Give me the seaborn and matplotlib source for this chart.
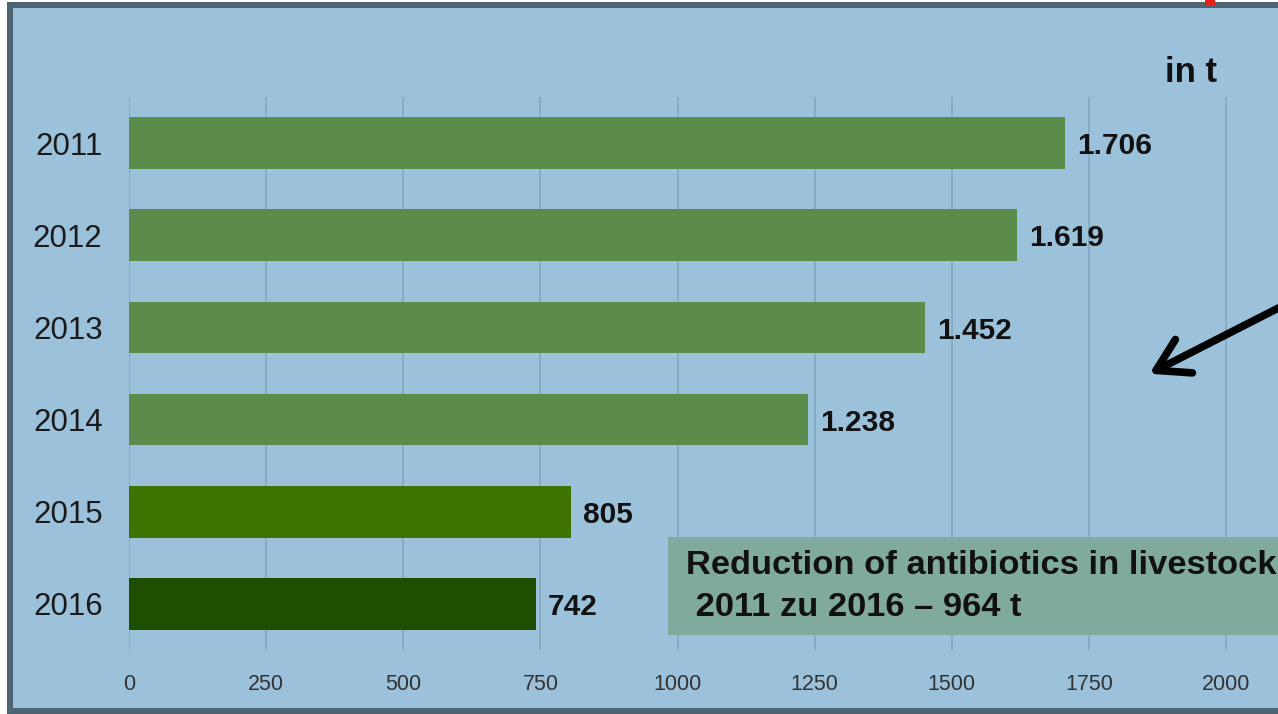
import matplotlib
matplotlib.use('Agg')
import matplotlib.pyplot as plt
from matplotlib.patches import Rectangle, FancyArrowPatch
import seaborn as sns
import pandas as pd

# Daten: Antibiotika-Abgabe in der Tierhaltung (in t)
years = ['2011', '2012', '2013', '2014', '2015', '2016']
amounts = [1706, 1619, 1452, 1238, 805, 742]
bar_colors = ['#5c8c4b', '#5c8c4b', '#5c8c4b', '#5c8c4b', '#3e7300', '#1f4e00']
x_ticks = [0, 250, 500, 750, 1000, 1250, 1500, 1750, 2000]
box_line1 = 'Reduction of antibiotics in livestock'
box_line2 = ' 2011 zu 2016 \u2013 964 t'
unit_label = 'in t'

df = pd.DataFrame({'Jahr': years, 'Menge': amounts})

sns.set_theme(style='white')
plt.rcParams['font.family'] = ['Liberation Sans', 'DejaVu Sans']

W, H = 1278, 714
fig = plt.figure(figsize=(W / 100, H / 100), dpi=100)
fig.patch.set_facecolor('white')

def fx(px):
    return px / W

def fy(py):
    return 1 - py / H

# Rahmen und blauer Hintergrund
fig.patches.append(Rectangle((fx(7), fy(714)), 1.1, fy(2) - fy(714),
                             transform=fig.transFigure, facecolor='#4e6472',
                             edgecolor='none', zorder=-2))
fig.patches.append(Rectangle((fx(13), fy(708)), 1.1, fy(8) - fy(708),
                             transform=fig.transFigure, facecolor='#9cc2db',
                             edgecolor='none', zorder=-1))
# kleiner roter Rest oben rechts
fig.patches.append(Rectangle((fx(1205), fy(5)), fx(10), fy(0) - fy(5),
                             transform=fig.transFigure, facecolor='#e8201c',
                             edgecolor='none', zorder=-0.5))

ax = fig.add_axes([fx(129), fy(650), 1 - fx(129), fy(97) - fy(650)])
ax.set_facecolor('none')
ax.set_zorder(1)

sns.barplot(data=df, x='Menge', y='Jahr', hue='Jahr', palette=bar_colors,
            orient='h', width=0.56, legend=False, saturation=1, ax=ax,
            linewidth=0, edgecolor='none', zorder=3)

ax.set_xlim(0, (W - 129) / 0.5485)
ax.set_ylim(5.5, -0.5)
ax.set_xticks(x_ticks)
ax.set_xticklabels([str(t) for t in x_ticks])
ax.grid(axis='x', color='#87aac3', linewidth=1.3, zorder=0)
ax.grid(axis='y', visible=False)
ax.set_axisbelow(True)
for s in ax.spines.values():
    s.set_visible(False)
ax.set_xlabel('')
ax.set_ylabel('')
ax.tick_params(axis='x', length=0, pad=17, labelsize=15.5, labelcolor='#333333')
ax.tick_params(axis='y', length=0, pad=19, labelsize=22.5, labelcolor='#1a1a1a')

# Werte an den Balken (deutsches Zahlenformat)
for i, v in enumerate(amounts):
    lbl = f'{v:,}'.replace(',', '.')
    ax.text(v + 22, i + 0.035, lbl, va='center', ha='left', fontsize=21.5,
            fontweight='bold', color='#111111')

fig.text(fx(1191), fy(72), unit_label, ha='center', va='center',
         fontsize=25, fontweight='bold', color='#111111')

# Infobox
fig.patches.append(Rectangle((fx(668), fy(635)), 1.0, fy(537) - fy(635),
                             transform=fig.transFigure, facecolor='#80aa9d',
                             edgecolor='none', zorder=4))
fig.text(fx(686), fy(565), box_line1, ha='left', va='center', fontsize=24.8,
         fontweight='bold', color='#111111', zorder=5)
fig.text(fx(686), fy(607), box_line2, ha='left', va='center', fontsize=24.8,
         fontweight='bold', color='#111111', zorder=5)

# Pfeil
fig.add_artist(FancyArrowPatch(
    (fx(1300), fy(297)), (fx(1147), fy(375)), transform=fig.transFigure,
    arrowstyle='->,head_length=0.75,head_width=0.45', mutation_scale=30,
    color='black', linewidth=5.5, capstyle='round', joinstyle='round', zorder=6))

fig.savefig('out.png', dpi=100)
